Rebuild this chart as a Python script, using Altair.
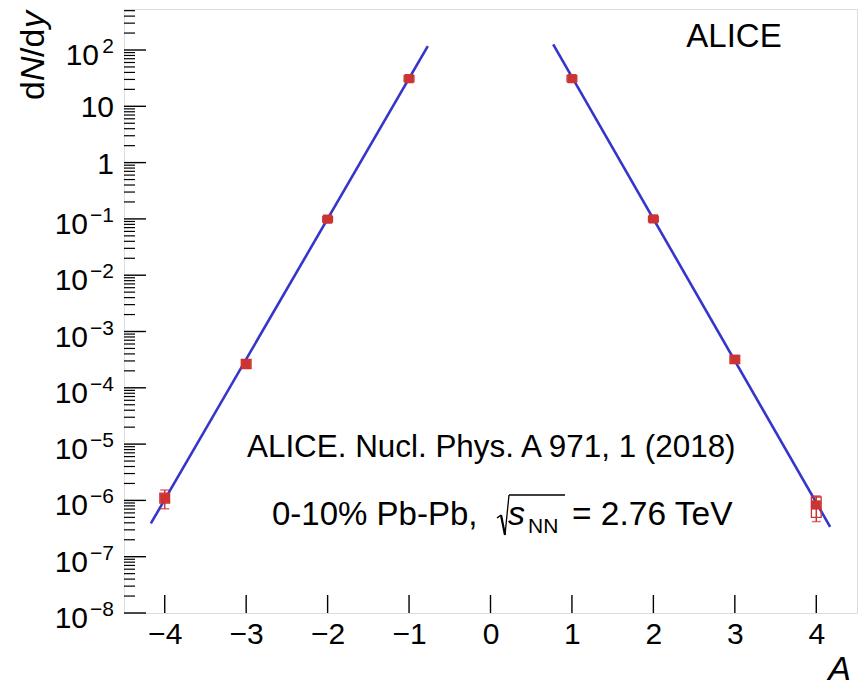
import altair as alt
import pandas as pd

# ---- data ----
A_vals = [-4, -3, -2, -1, 1, 2, 3, 4]
dndy = [1.1e-6, 2.65e-4, 0.099, 31.0, 31.0, 0.100, 3.2e-4, 8.3e-7]
stat_lo = [7.1e-7, 2.55e-4, 0.097, 30.4, 30.4, 0.098, 3.08e-4, 4.2e-7]
stat_hi = [1.53e-6, 2.75e-4, 0.101, 31.6, 31.6, 0.102, 3.32e-4, 1.2e-6]
syst_lo = [9.0e-7, 2.2e-4, 0.088, 27.5, 27.5, 0.089, 2.7e-4, 5.0e-7]
syst_hi = [1.35e-6, 3.2e-4, 0.111, 35.0, 35.0, 0.112, 3.75e-4, 1.15e-6]

fit_left_A = [-4.17, -0.77]
fit_left_y = [3.9e-7, 117.0]
fit_right_A = [0.77, 4.17]
fit_right_y = [126.0, 3.4e-7]

x_ticks = [-4, -3, -2, -1, 0, 1, 2, 3, 4]
y_major = [1e-8, 1e-7, 1e-6, 1e-5, 1e-4, 1e-3, 1e-2, 1e-1, 1.0, 10.0, 100.0]
y_base = ["10", "10", "10", "10", "10", "10", "10", "10", "1", "10", "10"]
y_exp = ["\u22128", "\u22127", "\u22126", "\u22125", "\u22124", "\u22123", "\u22122", "\u22121", "", "", "2"]

Y_MAX = 535.0
W, H = 733, 604
FONT = "Liberation Sans"
RED = "#cc3333"
BLUE = "#3535cc"
BOX_HALF = 0.06

y_minor = [m * d for d in y_major for m in range(2, 10) if m * d < Y_MAX]

pts = pd.DataFrame({"A": A_vals, "y": dndy, "slo": stat_lo, "shi": stat_hi,
                    "ylo": syst_lo, "yhi": syst_hi})
fitL = pd.DataFrame({"A": fit_left_A, "y": fit_left_y})
fitR = pd.DataFrame({"A": fit_right_A, "y": fit_right_y})

xs = alt.Scale(domain=[-4.5, 4.5], nice=False, zero=False)
ys = alt.Scale(type="log", domain=[1e-8, Y_MAX], nice=False)

xaxis = alt.Axis(values=x_ticks, ticks=False, tickSize=0, domain=False, grid=False,
                 labelFont=FONT, labelFontSize=30, labelColor="black", labelPadding=6,
                 labelFlush=False, labelOverlap=False, title=None,
                 labelExpr="datum.value < 0 ? '\u2212' + abs(datum.value) : '' + datum.value")


def X(f):
    return alt.X(f, scale=xs, axis=xaxis)


def Y(f):
    return alt.Y(f, scale=ys, axis=None)


base = alt.Chart(pts)

boxes = base.transform_calculate(x1=f"datum.A - {BOX_HALF}", x2=f"datum.A + {BOX_HALF}").mark_rect(
    filled=False, stroke=RED, strokeWidth=1.3).encode(
    x=X("x1:Q"), x2="x2:Q", y=Y("ylo:Q"), y2="yhi:Q")

ebar = base.mark_rule(color=RED, strokeWidth=1.5).encode(x=X("A:Q"), y=Y("slo:Q"), y2="shi:Q")
cap_lo = base.mark_tick(orient="horizontal", color=RED, size=9, thickness=1.5).encode(x=X("A:Q"), y=Y("slo:Q"))
cap_hi = base.mark_tick(orient="horizontal", color=RED, size=9, thickness=1.5).encode(x=X("A:Q"), y=Y("shi:Q"))

marks = base.mark_point(shape="square", filled=True, size=85, color=RED, opacity=1).encode(
    x=X("A:Q"), y=Y("y:Q"))

lineL = alt.Chart(fitL).mark_line(color=BLUE, strokeWidth=2.6).encode(x=X("A:Q"), y=Y("y:Q"))
lineR = alt.Chart(fitR).mark_line(color=BLUE, strokeWidth=2.6).encode(x=X("A:Q"), y=Y("y:Q"))

# inner ticks
tmaj = alt.Chart(pd.DataFrame({"v": y_major})).mark_rule(color="black", strokeWidth=1.4).encode(
    y=Y("v:Q"), x=alt.value(0), x2=alt.value(22))
tmin = alt.Chart(pd.DataFrame({"v": y_minor})).mark_rule(color="black", strokeWidth=1.2).encode(
    y=Y("v:Q"), x=alt.value(0), x2=alt.value(11))
xt = alt.Chart(pd.DataFrame({"t": x_ticks})).mark_rule(color="black", strokeWidth=1.4).encode(
    x=X("t:Q"), y=alt.value(H), y2=alt.value(H - 18))

# y tick labels
lab = pd.DataFrame({"v": y_major, "b": y_base, "e": y_exp})
plain = lab[lab["e"] == ""]
e1 = lab[lab["e"].str.len() == 1]
e2 = lab[lab["e"].str.len() == 2]

lp = alt.Chart(plain).mark_text(font=FONT, fontSize=30, align="right", baseline="alphabetic",
                                dx=-10, dy=11, color="black").encode(y=Y("v:Q"), x=alt.value(0), text="b:N")
lb1 = alt.Chart(e1).mark_text(font=FONT, fontSize=30, align="right", baseline="alphabetic",
                              dx=-10 - 15, dy=15, color="black").encode(y=Y("v:Q"), x=alt.value(0), text="b:N")
lb2 = alt.Chart(e2).mark_text(font=FONT, fontSize=30, align="right", baseline="alphabetic",
                              dx=-10 - 26, dy=15, color="black").encode(y=Y("v:Q"), x=alt.value(0), text="b:N")
le = alt.Chart(lab[lab["e"] != ""]).mark_text(font=FONT, fontSize=21, align="right", baseline="alphabetic",
                                              dx=-10, dy=3, color="black").encode(y=Y("v:Q"), x=alt.value(0), text="e:N")


def txt(s, x, y, size=31, style="normal", align="left", angle=0):
    return alt.Chart(pd.DataFrame({"s": [s]})).mark_text(
        font=FONT, fontSize=size, fontStyle=style, align=align, baseline="alphabetic",
        angle=angle, color="black").encode(x=alt.value(x), y=alt.value(y), text="s:N")


def seg(x1, y1, x2, y2, w):
    return alt.Chart(pd.DataFrame({"a": [0]})).mark_rule(color="black", strokeWidth=w).encode(
        x=alt.value(x1), y=alt.value(y1), x2=alt.value(x2), y2=alt.value(y2))


# axis titles
TY = 34
ytitle = [
    txt("d", -80, 91, TY, angle=270),
    txt("N", -80, 72, TY, "italic", angle=270),
    txt("/d", -80, 48, TY, angle=270),
    txt("y", -80, 19, TY, "italic", angle=270),
]
xtitle = txt("A", W - 6, 671, 34, "italic", align="right")

alice = txt("ALICE", 610, 38, 33, align="center")
ref = txt("ALICE. Nucl. Phys. A 971, 1 (2018)", 123, 448, 31.4)
l2a = txt("0-10% Pb-Pb,", 148, 516, 33)
s_ = txt("s", 384, 516, 34, "italic")
nn = txt("NN", 404, 524, 21)
l2b = txt("= 2.76 TeV", 448, 516, 33.5)
radical = [
    seg(373, 509, 377, 506, 1.5),
    seg(377, 506, 381, 526, 2.2),
    seg(381, 526, 385, 486, 1.3),
    seg(385, 486, 441, 486, 1.3),
]

chart = alt.layer(
    lineL, lineR, boxes, ebar, cap_lo, cap_hi, marks, tmaj, tmin, xt,
    lp, lb1, lb2, le, *ytitle, xtitle, alice, ref, l2a, s_, nn, l2b, *radical
).properties(
    width=W, height=H,
    autosize=alt.AutoSizeParams(type="none"),
    padding={"left": 124, "top": 9, "right": 5, "bottom": 75},
).configure_view(stroke="black", strokeWidth=2).configure(background="white")

chart.save("out.html", embed_options={"renderer": "svg", "actions": False})
